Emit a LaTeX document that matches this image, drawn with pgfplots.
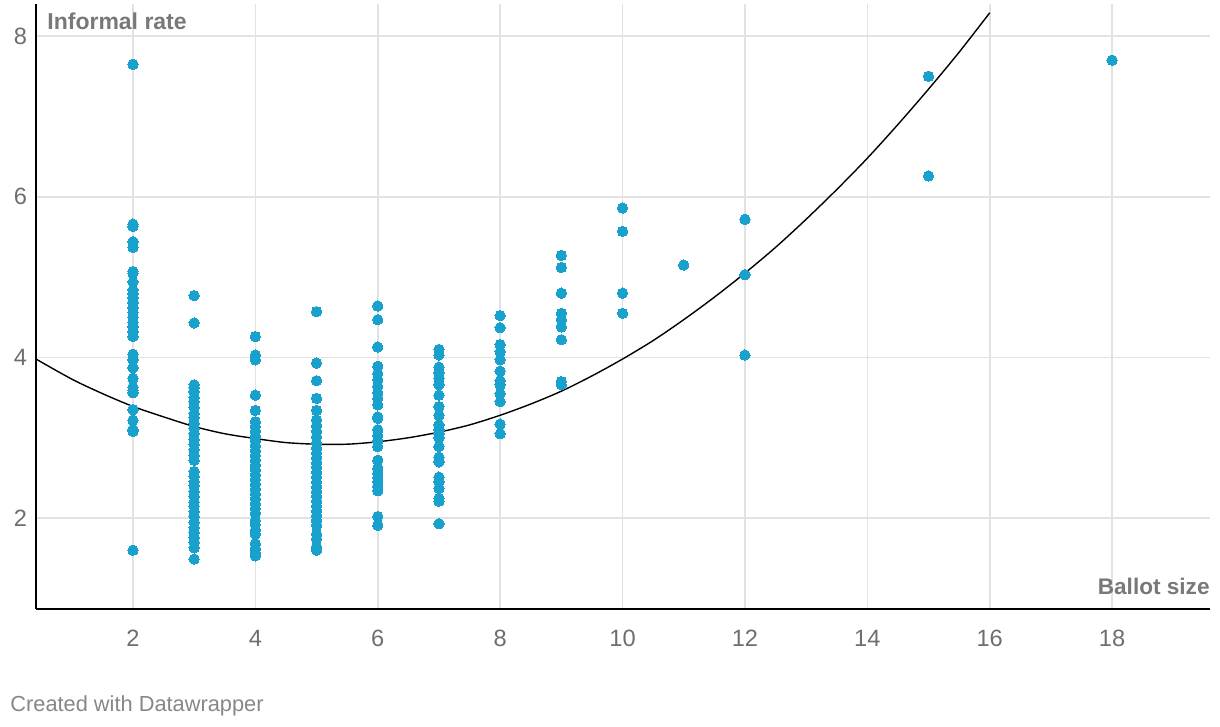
\documentclass[border=0pt]{standalone}
\usepackage{pgfplots}
\usepackage{pgfplotstable}
\usepackage{fontspec}
\setmainfont{Liberation Sans}
\pgfplotsset{compat=1.18}
\definecolor{dotblue}{RGB}{24,161,205}
\definecolor{gridgray}{RGB}{226,226,226}
\definecolor{ticktext}{RGB}{110,110,110}
\definecolor{titlegray}{RGB}{120,120,120}
\definecolor{credit}{RGB}{135,135,135}

\pgfplotstableread{
x y
2 7.65
2 5.66
2 5.63
2 5.44
2 5.37
2 5.07
2 5.05
2 4.94
2 4.84
2 4.79
2 4.74
2 4.68
2 4.62
2 4.56
2 4.50
2 4.44
2 4.38
2 4.32
2 4.26
2 4.04
2 3.97
2 3.87
2 3.74
2 3.63
2 3.59
2 3.56
2 3.35
2 3.22
2 3.10
2 3.08
2 1.60
3 4.77
3 4.43
3 3.66
3 3.62
3 3.57
3 3.50
3 3.45
3 3.38
3 3.30
3 3.25
3 3.18
3 3.12
3 3.05
3 2.98
3 2.92
3 2.85
3 2.78
3 2.72
3 2.58
3 2.52
3 2.45
3 2.40
3 2.33
3 2.27
3 2.20
3 2.15
3 2.08
3 2.02
3 1.95
3 1.88
3 1.82
3 1.76
3 1.70
3 1.63
3 1.49
4 4.26
4 4.03
4 3.97
4 3.53
4 3.34
4 3.20
4 3.14
4 3.08
4 3.02
4 2.96
4 2.90
4 2.84
4 2.78
4 2.72
4 2.66
4 2.60
4 2.54
4 2.48
4 2.42
4 2.36
4 2.30
4 2.24
4 2.18
4 2.12
4 2.06
4 1.97
4 1.92
4 1.85
4 1.80
4 1.68
4 1.62
4 1.57
4 1.53
5 4.57
5 3.93
5 3.71
5 3.49
5 3.34
5 3.22
5 3.15
5 3.08
5 3.01
5 2.93
5 2.87
5 2.81
5 2.75
5 2.69
5 2.63
5 2.57
5 2.51
5 2.45
5 2.39
5 2.33
5 2.27
5 2.21
5 2.15
5 2.09
5 2.03
5 1.97
5 1.91
5 1.80
5 1.74
5 1.64
5 1.60
6 4.64
6 4.47
6 4.13
6 3.89
6 3.80
6 3.72
6 3.64
6 3.56
6 3.49
6 3.41
6 3.26
6 3.24
6 3.10
6 3.03
6 2.96
6 2.89
6 2.72
6 2.62
6 2.56
6 2.50
6 2.45
6 2.39
6 2.34
6 2.02
6 1.91
7 4.10
7 4.03
7 3.88
7 3.81
7 3.74
7 3.66
7 3.53
7 3.39
7 3.28
7 3.16
7 3.10
7 3.05
7 3.00
7 2.89
7 2.76
7 2.70
7 2.51
7 2.45
7 2.37
7 2.25
7 2.21
7 1.93
8 4.52
8 4.37
8 4.16
8 4.07
8 3.97
8 3.83
8 3.71
8 3.66
8 3.55
8 3.45
8 3.17
8 3.05
9 5.27
9 5.12
9 4.80
9 4.55
9 4.47
9 4.38
9 4.22
9 3.70
9 3.66
10 5.86
10 5.57
10 4.80
10 4.55
11 5.15
12 5.72
12 5.03
12 4.03
15 7.50
15 6.26
18 7.70
}\dots

\pgfplotstableread{
x y
0.415 3.98
1 3.73
1.5 3.55
2 3.39
2.5 3.26
3 3.14
3.5 3.05
4 2.99
4.5 2.94
5 2.92
5.5 2.92
6 2.95
6.5 3.00
7 3.07
7.5 3.16
8 3.28
8.5 3.42
9 3.58
9.5 3.77
10 3.98
10.5 4.21
11 4.47
11.5 4.75
12 5.05
12.5 5.37
13 5.72
13.5 6.09
14 6.48
14.5 6.90
15 7.34
15.5 7.80
16 8.29
}\trend

\begin{document}
\begin{tikzpicture}
\begin{axis}[
  scale only axis,
  width=587pt, height=302.5pt,
  xmin=0.415, xmax=19.6,
  ymin=0.868, ymax=8.4,
  axis x line=bottom, axis y line=left,
  axis line style={-, black, line width=1pt},
  xtick={2,4,...,18}, ytick={2,4,6,8},
  major tick length=0pt,
  grid=major,
  major grid style={gridgray, line width=0.8pt},
  tick label style={font=\fontsize{11.8}{14}\selectfont, text=ticktext},
  /pgf/number format/assume math mode=true,
  xticklabel style={yshift=-7pt},
  yticklabel style={xshift=-1pt},
  clip=false,
]
\addplot[black, line width=0.7pt, smooth] table[x=x, y=y] {\trend};
\addplot[only marks, color=dotblue, mark=*, mark size=2.6pt, mark options={fill=dotblue, draw=dotblue, line width=0pt}] table[x=x, y=y] {\dots};
\node[anchor=north west, font=\bfseries\fontsize{11.5}{13}\selectfont, text=titlegray, inner sep=0pt] at ([xshift=5.5pt, yshift=-4pt]rel axis cs:0,1) {Informal rate};
\node[anchor=base east, font=\bfseries\fontsize{11.3}{13}\selectfont, text=titlegray, inner sep=0pt] at ([yshift=7.5pt]rel axis cs:1,0) {Ballot size};
\node[anchor=base west, font=\fontsize{10.9}{12}\selectfont, text=credit, inner sep=0pt] at ([xshift=-13pt, yshift=-51pt]rel axis cs:0,0) {Created with Datawrapper};
\end{axis}
\path ([xshift=-18pt, yshift=-58.5pt]current axis.south west) rectangle ([xshift=5pt, yshift=2pt]current axis.north east);
\end{tikzpicture}
\end{document}
